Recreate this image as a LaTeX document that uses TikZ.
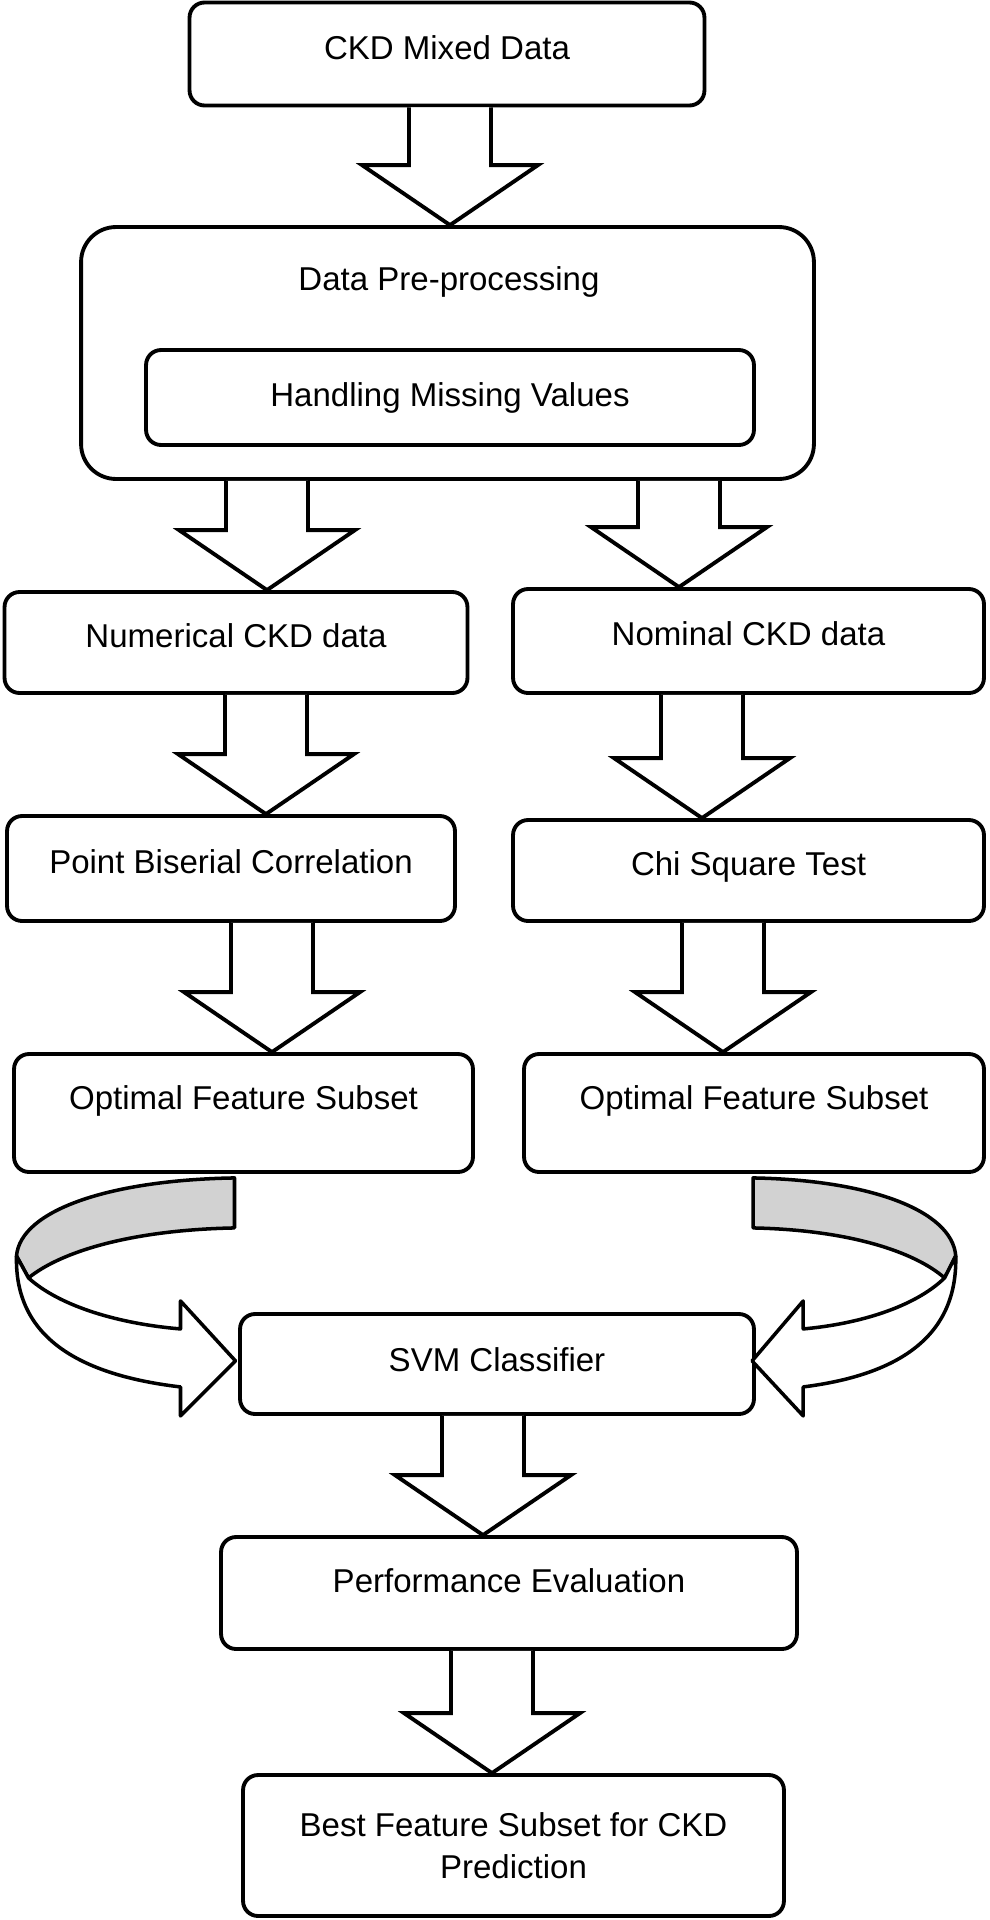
\documentclass[tikz,border=0pt]{standalone}
\usepackage{fontspec}
\setmainfont{Liberation Sans}
\usetikzlibrary{calc}
\tikzset{frame/.style = {draw, rounded corners=0.3cm, line width=2.2pt, fill=white, align=center},
         box/.style = {frame, text height=0.47cm, text depth=#1},
         box/.default = 0.28cm,
         blockarrow/.style = {draw, line width=2.2pt, fill=white, sharp corners, line join=miter},
         ribbon/.style = {draw, line width=2pt, line join=round}}

\begin{document}
\begin{tikzpicture}[x=0.02cm, y=-0.02cm, font=\fontsize{18.8}{23.8}\selectfont]
  \useasboundingbox (0,0) rectangle (990,1920);

  \node[box=0.24cm, minimum width=10.3cm, minimum height=2.06cm] (mixed) at (447,54) {CKD Mixed Data};
  \node[frame, rounded corners=0.7cm, minimum width=14.66cm, minimum height=5.04cm] (pre) at (447.5,353) {};
  \node (pretitle) at (449,282) {Data Pre-processing};
  \node[box=0.1cm, minimum width=12.16cm, minimum height=1.9cm] (missing) at (450,397.5) {Handling Missing Values};
  \node[box, minimum width=9.26cm, minimum height=2.02cm] (num) at (236,642.5) {Numerical CKD data};
  \node[box, minimum width=9.42cm, minimum height=2.08cm] (nom) at (748.5,641) {Nominal CKD data};
  \node[box, minimum width=8.96cm, minimum height=2.1cm] (pbc) at (231,868.5) {Point Biserial Correlation};
  \node[box, minimum width=9.42cm, minimum height=2.02cm] (chi) at (748.5,870.5) {Chi Square Test};
  \node[box=0.6cm, minimum width=9.18cm, minimum height=2.36cm] (optl) at (243.5,1113) {Optimal Feature Subset};
  \node[box=0.6cm, minimum width=9.2cm, minimum height=2.36cm] (optr) at (754,1113) {Optimal Feature Subset};
  \node[box=0.16cm, minimum width=10.28cm, minimum height=2cm] (svm) at (497,1364) {SVM Classifier};
  \node[box=0.48cm, minimum width=11.52cm, minimum height=2.24cm] (perf) at (509,1593) {Performance Evaluation};
  \node[frame, minimum width=10.82cm, minimum height=2.82cm] (best) at (513.5,1845.5) {Best Feature Subset for CKD\\Prediction};

  \foreach \src/\dst/\xpos in {mixed/pre/450, pre/num/267, pre/nom/679, num/pbc/266, nom/chi/702,
                               pbc/optl/272, chi/optr/723, svm/perf/483, perf/best/492} {
    \draw[blockarrow] let \p1 = (\src.south), \p2 = (\dst.north), \p3 = (\xpos,0) in
      ({\x3-0.82cm},\y1) -- ({\x3-0.82cm},{\y2+1.2cm}) -- ({\x3-1.76cm},{\y2+1.2cm}) -- (\x3,\y2)
      -- ({\x3+1.76cm},{\y2+1.2cm}) -- ({\x3+0.82cm},{\y2+1.2cm}) -- ({\x3+0.82cm},\y1);
  }

  % curved arrows into the classifier
  \foreach \side/\sx/\dx in {optl/1/-9, optr/-0.93/-1} {
    \begin{scope}[shift={($(\side.south)+(\dx,0)$)}, xscale=\sx]
      \draw[ribbon, fill=gray!35] (0,4) .. controls (-124,6) and (-214,36) .. (-218,82) -- (-206,104)
        .. controls (-174,78) and (-104,56) .. (0,54) -- cycle;
      \draw[ribbon, fill=white] (-206,104) .. controls (-174,133) and (-114,150) .. (-54,155)
        -- (-54,127) -- (1,187) -- (-54,242) -- (-54,213)
        .. controls (-164,200) and (-220,158) .. (-218,82) -- cycle;
    \end{scope}
  }
\end{tikzpicture}
\end{document}
